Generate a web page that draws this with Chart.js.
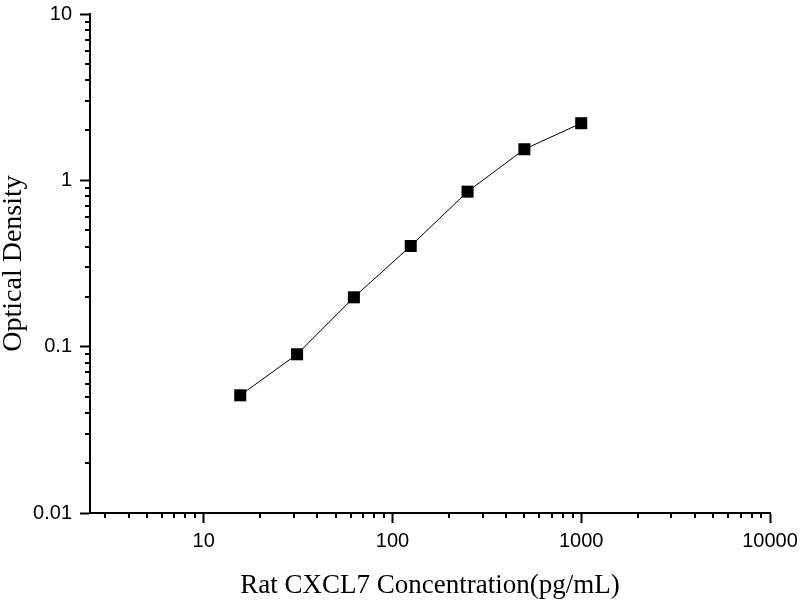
<!DOCTYPE html>
<html>
<head>
<meta charset="utf-8">
<title>Rat CXCL7 standard curve</title>
<script src="https://cdn.jsdelivr.net/npm/chart.js@4.4.0/dist/chart.umd.min.js"></script>
<style>
  html, body { margin: 0; padding: 0; background: #fff; }
  #wrap { width: 800px; height: 600px; }
</style>
</head>
<body>
<div id="wrap"><canvas id="myChart" width="800" height="600"></canvas></div>
<script>
// Standard curve values
const concentration = [15.625, 31.25, 62.5, 125, 250, 500, 1000]
const opticalDensity = [0.051, 0.090, 0.198, 0.403, 0.855, 1.538, 2.205]

// Axis ticks
const xMajorTicks = [10, 100, 1000, 10000]
const xTickLabels = ['10', '100', '1000', '10000']
const yMajorTicks = [0.01, 0.1, 1, 10]
const yTickLabels = ['0.01', '0.1', '1', '10']
const xDecades = [1, 10, 100, 1000]
const yDecades = [0.01, 0.1, 1]
const minorSteps = [2, 3, 4, 5, 6, 7, 8, 9]

const points = concentration.map((c, i) => ({ x: c, y: opticalDensity[i] }))

// major ticks + the 2..9 minor ticks of every decade, kept inside the axis range
function buildTicks(majors, decades, min, max) {
  const ticks = majors.map((v) => ({ value: v, major: true }))
  decades.forEach((d) => {
    minorSteps.forEach((k) => ticks.push({ value: k * d, major: false }))
  })
  return ticks
    .filter((t) => t.value >= min - 1e-9 && t.value <= max + 1e-9)
    .sort((a, b) => a.value - b.value)
}

// Chart.js has one tick length per axis, so the short minor ticks are drawn here
const minorTickPlugin = {
  id: 'minorTicks',
  afterDraw(chart) {
    const ctx = chart.ctx
    const xs = chart.scales.x
    const ys = chart.scales.y
    ctx.save()
    ctx.strokeStyle = '#000'
    ctx.lineWidth = 2
    ctx.beginPath()
    xs.ticks.forEach((t) => {
      if (t.major) return
      const px = Math.round(xs.getPixelForValue(t.value))
      ctx.moveTo(px, xs.top)
      ctx.lineTo(px, xs.top + 5)
    })
    ys.ticks.forEach((t) => {
      if (t.major) return
      const py = Math.round(ys.getPixelForValue(t.value))
      ctx.moveTo(ys.right, py)
      ctx.lineTo(ys.right - 5, py)
    })
    ctx.stroke()
    ctx.restore()
  },
}

const tickFont = { family: "'Liberation Sans', Arial, sans-serif", size: 20 }
const xTitleFont = { family: "'Liberation Serif', 'Times New Roman', serif", size: 27, lineHeight: 1 }
const yTitleFont = { family: "'Liberation Serif', 'Times New Roman', serif", size: 28, lineHeight: 1 }

const ctx = document.getElementById('myChart').getContext('2d')

new Chart(ctx, {
  type: 'line',
  data: {
    datasets: [
      {
        label: 'Optical Density',
        data: points,
        borderColor: '#000',
        borderWidth: 1,
        pointStyle: 'rect',
        pointRadius: 8.5,
        pointBorderWidth: 0,
        pointBackgroundColor: '#000',
        tension: 0,
      },
    ],
  },
  options: {
    responsive: false,
    animation: false,
    devicePixelRatio: 1,
    layout: {
      padding: { top: 14, right: 30, left: 0, bottom: 0 },
    },
    plugins: {
      legend: { display: false },
      tooltip: { enabled: false },
    },
    scales: {
      x: {
        type: 'logarithmic',
        min: 2.5,
        max: 10000,
        afterBuildTicks: (scale) => {
          scale.ticks = buildTicks(xMajorTicks, xDecades, scale.min, scale.max)
        },
        afterFit: (scale) => {
          scale.height = 87
          scale.paddingLeft = 0
          scale.paddingRight = 0
        },
        border: { display: true, color: '#000', width: 2 },
        grid: {
          drawOnChartArea: false,
          drawTicks: true,
          tickLength: 10,
          tickWidth: 2,
          tickColor: (c) => (c.tick && c.tick.major ? '#000' : 'rgba(0,0,0,0)'),
        },
        ticks: {
          autoSkip: false,
          maxRotation: 0,
          padding: 6,
          color: '#000',
          font: tickFont,
          callback: (value) => {
            const i = xMajorTicks.indexOf(value)
            return i >= 0 ? xTickLabels[i] : ''
          },
        },
        title: {
          display: true,
          text: 'Rat CXCL7 Concentration(pg/mL)',
          color: '#000',
          font: xTitleFont,
          padding: { top: 6, bottom: 1 },
        },
      },
      y: {
        type: 'logarithmic',
        min: 0.01,
        max: 10,
        afterBuildTicks: (scale) => {
          scale.ticks = buildTicks(yMajorTicks, yDecades, scale.min, scale.max)
        },
        afterFit: (scale) => {
          scale.width = 90
          scale.paddingTop = 0
          scale.paddingBottom = 0
        },
        border: { display: true, color: '#000', width: 2 },
        grid: {
          drawOnChartArea: false,
          drawTicks: true,
          tickLength: 10,
          tickWidth: 2,
          tickColor: (c) => (c.tick && c.tick.major ? '#000' : 'rgba(0,0,0,0)'),
        },
        ticks: {
          autoSkip: false,
          padding: 8,
          color: '#000',
          font: tickFont,
          callback: (value) => {
            const i = yMajorTicks.indexOf(value)
            return i >= 0 ? yTickLabels[i] : ''
          },
        },
        title: {
          display: true,
          text: 'Optical Density',
          color: '#000',
          font: yTitleFont,
          padding: { top: 0, bottom: 0 },
        },
      },
    },
  },
  plugins: [minorTickPlugin],
})
</script>
</body>
</html>
